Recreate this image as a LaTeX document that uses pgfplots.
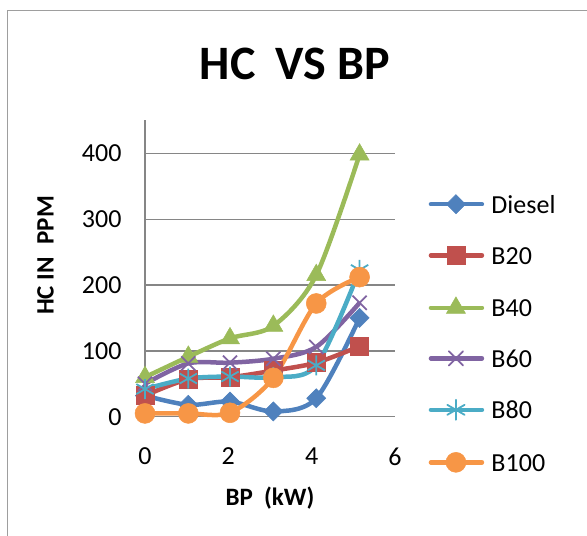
\documentclass[border=0pt]{standalone}
\usepackage{pgfplots}
\pgfplotsset{compat=1.18}
\usepackage{fontspec}
\setmainfont{Carlito}
\definecolor{cDiesel}{HTML}{4F81BD}
\definecolor{cB20}{HTML}{C0504D}
\definecolor{cB40}{HTML}{9BBB59}
\definecolor{cB60}{HTML}{8064A2}
\definecolor{cB80}{HTML}{4BACC6}
\definecolor{cB100}{HTML}{F79646}
\definecolor{axgray}{HTML}{868686}
\begin{document}
\begin{tikzpicture}[x=1pt,y=1pt]
\path[use as bounding box] (0,0) rectangle (587,-536);
\draw[color=axgray!80, line width=1.3pt] (7.5,-540) -- (7.5,-10.3) -- (590,-10.3);
\node[font=\fontsize{48}{50}\selectfont\bfseries, anchor=base, inner sep=0pt] at (294.7,-79.3) {HC\hspace{0.42em}VS BP};
\node[font=\fontsize{25}{27}\selectfont\bfseries, rotate=90, anchor=base, inner sep=0pt] at (53.5,-255.5) {HC IN\hspace{0.5em}PPM};
\node[font=\fontsize{25}{27}\selectfont\bfseries, anchor=base, inner sep=0pt] at (270,-505) {BP\hspace{0.45em}(kW)};
\begin{axis}[
  at={(145pt,-416.7pt)}, anchor=south west,
  scale only axis, width=250pt, height=296.3pt,
  xmin=0, xmax=6, ymin=0, ymax=450,
  xtick={0,2,4,6}, ytick={0,100,200,300,400},
  axis lines*=left,
  axis line style={draw=axgray, line width=1.3pt},
  ymajorgrids, grid style={draw=axgray, line width=1.3pt},
  major tick length=0pt,
  clip=false,
  tick label style={font=\fontsize{26}{28}\selectfont},
  /pgf/number format/assume math mode=true,
  yticklabel style={anchor=east, inner sep=0pt, xshift=-23.3pt},
  xticklabel style={anchor=north, inner sep=0pt, yshift=-31pt},
  every axis plot/.append style={line width=4.5pt, smooth},
  legend style={at={(1.1348,0.7496)}, anchor=north west, draw=none, fill=none,
    font=\fontsize{26}{28}\selectfont, row sep=32.5pt, inner sep=0pt, outer sep=0pt,
    nodes={inner sep=0pt, text height=18pt, text depth=0pt},
    /tikz/every odd column/.append style={column sep=7.3pt}},
  legend cell align=left,
  legend image code/.code={\draw[mark repeat=2, mark phase=2, line cap=round, #1] plot coordinates {(0pt,0pt) (25pt,0pt) (51pt,0pt)};},
]
\addplot[color=cDiesel, mark=square*, mark size=6.8pt, mark options={rotate=45, solid, line width=0.5pt}]
  coordinates {(0,32) (1.04,18) (2.04,23) (3.08,8) (4.11,28) (5.15,150)};
\addlegendentry{Diesel}
\addplot[color=cB20, mark=square*, mark size=9pt, mark options={solid, line width=0.5pt}]
  coordinates {(0,32) (1.04,57) (2.04,60) (3.08,70) (4.11,82) (5.15,107)};
\addlegendentry{B20}
\addplot[color=cB40, mark=triangle*, mark size=11pt, mark options={solid, line width=0.5pt}]
  coordinates {(0,60) (1.04,91) (2.04,119) (3.08,138) (4.11,215) (5.15,398)};
\addlegendentry{B40}
\addplot[color=cB60, mark=x, mark size=10pt, mark options={solid, line width=1.8pt}]
  coordinates {(0,50) (1.04,81) (2.04,82) (3.08,88) (4.11,106) (5.15,173)};
\addlegendentry{B60}
\addplot[color=cB80, mark=asterisk, mark size=10pt, mark options={solid, line width=1.8pt}]
  coordinates {(0,42) (1.04,58) (2.04,61) (3.08,60) (4.11,78) (5.15,223)};
\addlegendentry{B80}
\addplot[color=cB100, mark=*, mark size=10pt, mark options={solid, line width=0.5pt}]
  coordinates {(0,5) (1.04,5) (2.04,6) (3.08,59) (4.11,172) (5.15,212)};
\addlegendentry{B100}
\end{axis}
\end{tikzpicture}
\end{document}
